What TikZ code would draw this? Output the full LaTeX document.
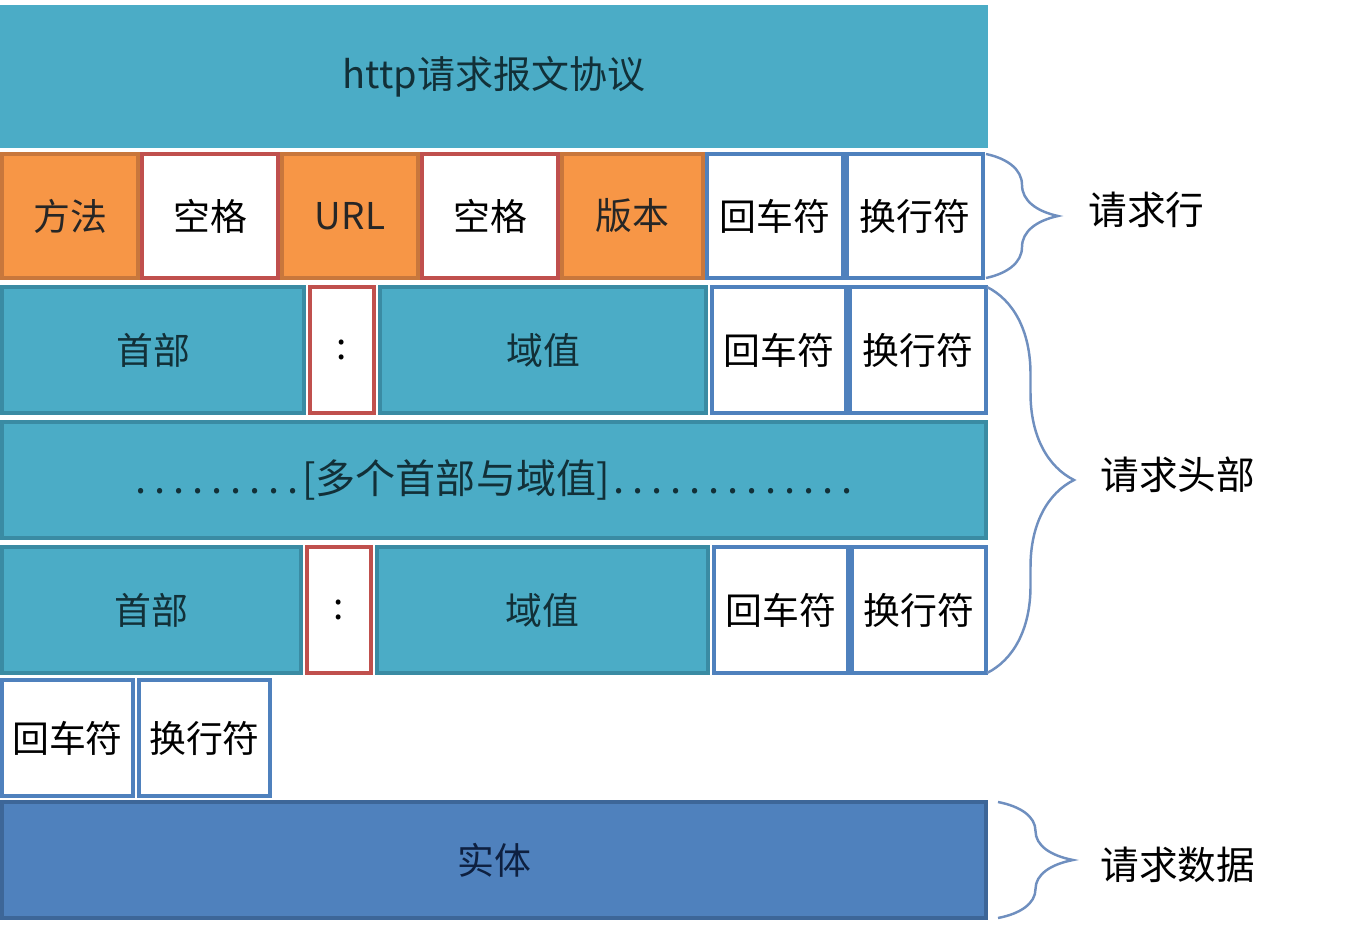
\documentclass[tikz,border=0pt]{standalone}
\usepackage{fontspec}
\setmainfont{Noto Sans CJK SC}
\usepackage{tikz}
\usetikzlibrary{
    decorations.pathreplacing
}

\definecolor{tealfill}{HTML}{4BACC6}
\definecolor{tealedge}{HTML}{3A8BA3}
\definecolor{orangefill}{HTML}{F79646}
\definecolor{orangeedge}{HTML}{C8773C}
\definecolor{rededge}{HTML}{C0504D}
\definecolor{blueedge}{HTML}{4F81BD}
\definecolor{bodyfill}{HTML}{4F81BD}
\definecolor{bodyedge}{HTML}{3D6698}
\definecolor{bracecol}{HTML}{6F8FBF}
\definecolor{inktext}{HTML}{123038}

% a run of evenly spaced dots
\newcommand{\dotrun}[1]{\foreach \i in {1,...,#1}{\makebox[0.19cm]{.}}}

\begin{document}
\begin{tikzpicture}[
    wh/.style 2 args={minimum width=#1cm, minimum height=#2cm},
    cell/.style={inner sep=0pt, outer sep=0pt, line width=1.3pt,
        font=\fontsize{10.5pt}{12pt}\selectfont},
    tealcell/.style={cell, fill=tealfill, draw=tealedge, text=inktext},
    orangecell/.style={cell, fill=orangefill, draw=orangeedge, text=black!85},
    gapcell/.style={cell, fill=white, draw=rededge},
    crlfcell/.style={cell, fill=white, draw=blueedge},
    partlabel/.style={font=\fontsize{11pt}{13pt}\selectfont, anchor=west},
    partbrace/.style={draw=bracecol, line width=0.7pt, decorate}
]

\useasboundingbox (0,0) rectangle (13.6,-9.3);

% title bar
\node[tealcell, draw=none, wh={9.88}{1.43}, font=\fontsize{10.8pt}{13pt}\selectfont]
    (title) at (4.94,-0.765) {http请求报文协议};

% request line
\node[orangecell, wh={1.36}{1.24}] (method)  at (0.70,-2.16) {方法};
\node[gapcell,    wh={1.36}{1.24}] (spaceA)  at (2.10,-2.16) {空格};
\node[orangecell, wh={1.36}{1.24}] (url)     at (3.50,-2.16) {URL};
\node[gapcell,    wh={1.36}{1.24}] (spaceB)  at (4.90,-2.16) {空格};
\node[orangecell, wh={1.41}{1.24}] (version) at (6.325,-2.16) {版本};
\node[crlfcell,   wh={1.36}{1.24}] (crA)     at (7.75,-2.16) {回车符};
\node[crlfcell,   wh={1.36}{1.24}] (lfA)     at (9.15,-2.16) {换行符};

% first header line
\node[tealcell, wh={3.02}{1.26}] (headB)  at (1.53,-3.50) {首部};
\node[gapcell,  wh={0.64}{1.26}] (colonB) at (3.42,-3.50) {:};
\node[tealcell, wh={3.26}{1.26}] (valueB) at (5.43,-3.50) {域值};
\node[crlfcell, wh={1.34}{1.26}] (crB)    at (7.79,-3.50) {回车符};
\node[crlfcell, wh={1.36}{1.26}] (lfB)    at (9.18,-3.50) {换行符};

% more headers
\node[tealcell, wh={9.84}{1.16}, font=\fontsize{11.4pt}{13pt}\selectfont]
    (more) at (4.94,-4.80) {\dotrun{9}[多个首部与域值]\dotrun{13}};

% last header line
\node[tealcell, wh={2.99}{1.26}] (headC)  at (1.515,-6.10) {首部};
\node[gapcell,  wh={0.64}{1.26}] (colonC) at (3.39,-6.10) {:};
\node[tealcell, wh={3.31}{1.26}] (valueC) at (5.425,-6.10) {域值};
\node[crlfcell, wh={1.34}{1.26}] (crC)    at (7.81,-6.10) {回车符};
\node[crlfcell, wh={1.34}{1.26}] (lfC)    at (9.19,-6.10) {换行符};

% empty line
\node[crlfcell, wh={1.31}{1.16}] (crD) at (0.675,-7.38) {回车符};
\node[crlfcell, wh={1.31}{1.16}] (lfD) at (2.045,-7.38) {换行符};

% body
\node[cell, fill=bodyfill, draw=bodyedge, text={rgb,255:red,14;green,32;blue,64},
    wh={9.84}{1.16}] (body) at (4.94,-8.60) {实体};

% braces and their labels
\draw[partbrace, decoration={brace, amplitude=0.72cm}]
    ([xshift=0.03cm]lfA.north east) -- ([xshift=0.03cm]lfA.south east);
\draw[partbrace, decoration={brace, amplitude=0.87cm}]
    ([xshift=0.01cm]lfB.north east) -- ([xshift=0.01cm]lfC.south east);
\draw[partbrace, decoration={brace, amplitude=0.75cm}]
    ([xshift=0.12cm]body.north east) -- ([xshift=0.12cm]body.south east);

\node[partlabel] (lineLbl) at (10.76,-2.10) {请求行};
\node[partlabel] (headLbl) at (10.88,-4.75) {请求头部};
\node[partlabel] (dataLbl) at (10.88,-8.65) {请求数据};

\end{tikzpicture}
\end{document}
